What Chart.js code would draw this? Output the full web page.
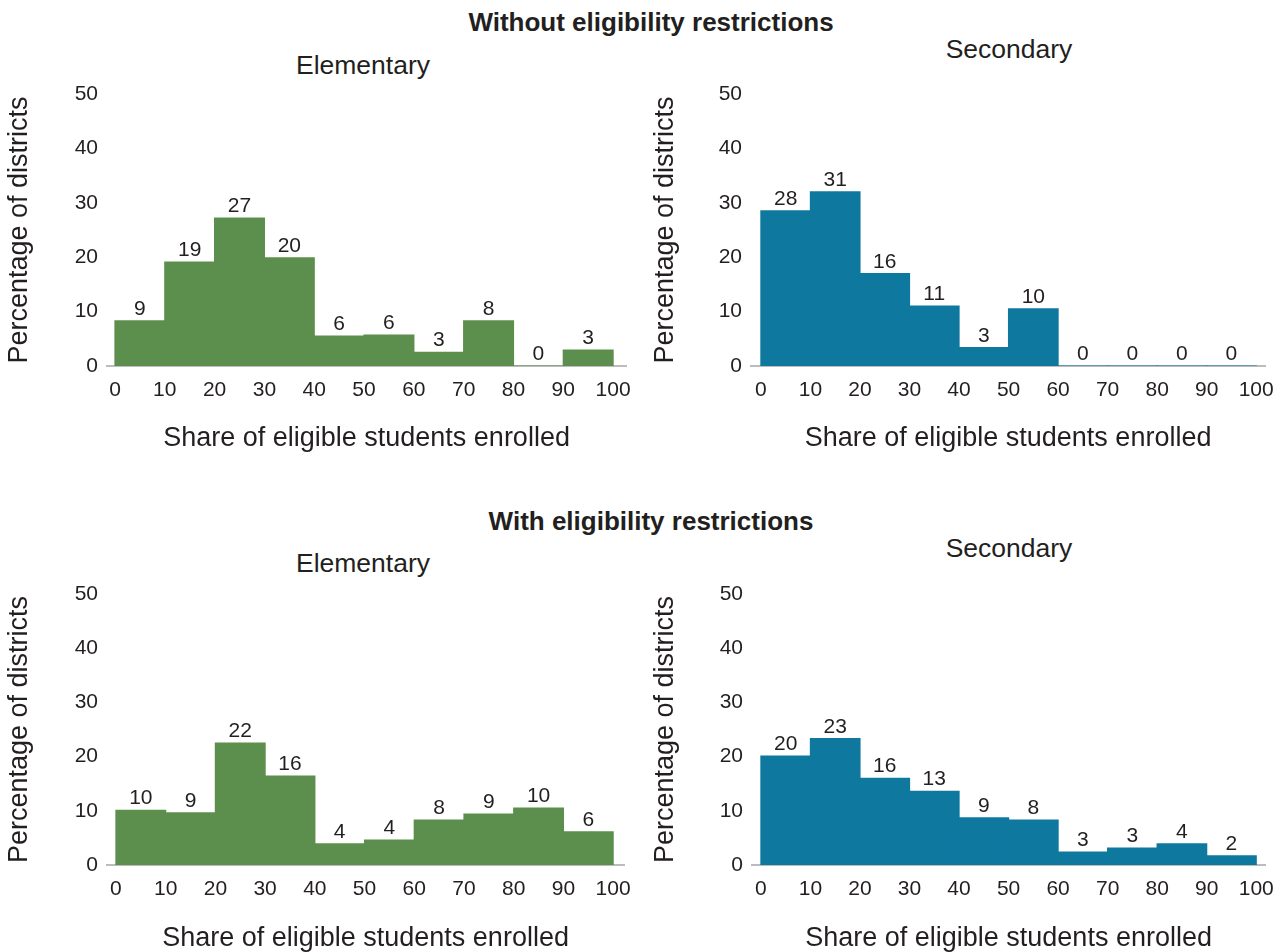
<!DOCTYPE html>
<html>
<head>
<meta charset="utf-8">
<script src="https://cdn.jsdelivr.net/npm/chart.js@4.4.1/dist/chart.umd.min.js"></script>
<style>
  body { margin: 0; background: #fff; font-family: "Liberation Sans", Arial, sans-serif; }
  #page { position: relative; width: 1286px; height: 952px; overflow: hidden; }
  canvas { position: absolute; }
  .title { position: absolute; transform: translate(-50%, -50%); white-space: nowrap; color: #231f20; }
  .main { font-weight: bold; font-size: 26px; }
  .sub { font-size: 26.5px; }
</style>
</head>
<body>
<div id="page">
  <div class="title main" style="left:651px; top:22px;">Without eligibility restrictions</div>
  <div class="title sub" style="left:363px; top:65px;">Elementary</div>
  <div class="title sub" style="left:1009px; top:49px;">Secondary</div>
  <div class="title main" style="left:651px; top:521px;">With eligibility restrictions</div>
  <div class="title sub" style="left:363px; top:563px;">Elementary</div>
  <div class="title sub" style="left:1009px; top:548px;">Secondary</div>
  <canvas id="tl" width="643" height="470" style="left:0; top:0;"></canvas>
  <canvas id="tr" width="643" height="470" style="left:643px; top:0;"></canvas>
  <canvas id="bl" width="643" height="482" style="left:0; top:470px;"></canvas>
  <canvas id="br" width="643" height="482" style="left:643px; top:470px;"></canvas>
</div>
<script>
// --- DATA ---
// bin midpoints (share of eligible students enrolled, 10-point bins)
const binMids = [5, 15, 25, 35, 45, 55, 65, 75, 85, 95];
const xTicks = [0, 10, 20, 30, 40, 50, 60, 70, 80, 90, 100];
const yTicks = [0, 10, 20, 30, 40, 50];

// without eligibility restrictions
const elemNoRestrict = [8.3, 19.1, 27.2, 19.9, 5.5, 5.7, 2.5, 8.3, 0, 2.9];
const elemNoRestrictLabels = [9, 19, 27, 20, 6, 6, 3, 8, 0, 3];
const secNoRestrict = [28.5, 32.0, 17.0, 11.0, 3.4, 10.5, 0, 0, 0, 0];
const secNoRestrictLabels = [28, 31, 16, 11, 3, 10, 0, 0, 0, 0];

// with eligibility restrictions
const elemRestrict = [10.1, 9.6, 22.5, 16.4, 3.9, 4.6, 8.3, 9.4, 10.5, 6.1];
const elemRestrictLabels = [10, 9, 22, 16, 4, 4, 8, 9, 10, 6];
const secRestrict = [20.1, 23.3, 16.0, 13.6, 8.7, 8.3, 2.4, 3.1, 3.9, 1.7];
const secRestrictLabels = [20, 23, 16, 13, 9, 8, 3, 3, 4, 2];

const GREEN = "#5c8f4d";
const BLUE = "#0f789f";
const TEXT = "#231f20";
const FONT = "'Liberation Sans', Arial, sans-serif";

// draws the number above each bar
const barLabels = {
  id: "barLabels",
  afterDatasetsDraw(chart) {
    const ctx = chart.ctx;
    const labels = chart.options.plugins.barLabels.labels;
    const meta = chart.getDatasetMeta(0);
    ctx.save();
    ctx.font = `21px ${FONT}`;
    ctx.fillStyle = TEXT;
    ctx.textAlign = "center";
    ctx.textBaseline = "alphabetic";
    meta.data.forEach((bar, i) => {
      ctx.fillText(String(labels[i]), bar.x, bar.y - 6);
    });
    ctx.restore();
  },
};

// panel = {id, values, labels, color, area:[left,right,top,bottom], xMin, xMax, yTitlePad, xTitlePad}
function makePanel(p) {
  const canvas = document.getElementById(p.id);
  const W = canvas.width;
  const H = canvas.height;
  new Chart(canvas, {
    type: "bar",
    data: {
      datasets: [
        {
          data: binMids.map((x, i) => ({ x: x, y: p.values[i] })),
          backgroundColor: p.color,
          borderWidth: 0,
          inflateAmount: 0.6, // no seams between touching bars
          barPercentage: 1,
          categoryPercentage: 1,
        },
      ],
    },
    options: {
      responsive: false,
      animation: false,
      layout: {
        padding: { left: 0, top: p.area[2], right: W - p.area[1], bottom: 0 },
      },
      plugins: {
        legend: { display: false },
        tooltip: { enabled: false },
        barLabels: { labels: p.labels },
      },
      scales: {
        x: {
          type: "linear",
          offset: false,
          min: p.xMin,
          max: p.xMax,
          afterBuildTicks: (s) => (s.ticks = xTicks.map((v) => ({ value: v }))),
          afterFit: (s) => (s.height = H - p.area[3]),
          grid: { display: false, drawTicks: false, offset: false },
          border: { display: true, color: "#bcbcbc", width: 2 },
          ticks: { color: TEXT, padding: 12, maxRotation: 0, font: { family: FONT, size: 21 } },
          title: {
            display: true,
            text: "Share of eligible students enrolled",
            color: TEXT,
            padding: { top: 0, bottom: p.xTitlePad },
            font: { family: FONT, size: 27 },
          },
        },
        y: {
          min: 0,
          max: 50,
          afterBuildTicks: (s) => (s.ticks = yTicks.map((v) => ({ value: v }))),
          afterFit: (s) => (s.width = p.area[0]),
          grid: { display: false, drawTicks: false },
          border: { display: false },
          ticks: { color: TEXT, padding: 9, font: { family: FONT, size: 21 } },
          title: {
            display: true,
            text: "Percentage of districts",
            color: TEXT,
            padding: { top: p.yTitlePad, bottom: 0 },
            font: { family: FONT, size: 27 },
          },
        },
      },
    },
    plugins: [barLabels],
  });
}

makePanel({ id: "tl", values: elemNoRestrict, labels: elemNoRestrictLabels, color: GREEN,
  area: [107, 628, 94, 366], xMin: -1.6, xMax: 102.6, yTitlePad: 3, xTitlePad: 15 });
makePanel({ id: "tr", values: secNoRestrict, labels: secNoRestrictLabels, color: BLUE,
  area: [108, 627, 94, 366], xMin: -2, xMax: 101.8, yTitlePad: 6, xTitlePad: 15 });
makePanel({ id: "bl", values: elemRestrict, labels: elemRestrictLabels, color: GREEN,
  area: [107, 627, 124, 395], xMin: -1.8, xMax: 102.2, yTitlePad: 3, xTitlePad: -3 });
makePanel({ id: "br", values: secRestrict, labels: secRestrictLabels, color: BLUE,
  area: [109, 628, 124, 395], xMin: -1.8, xMax: 101.8, yTitlePad: 6, xTitlePad: -3 });
</script>
</body>
</html>
